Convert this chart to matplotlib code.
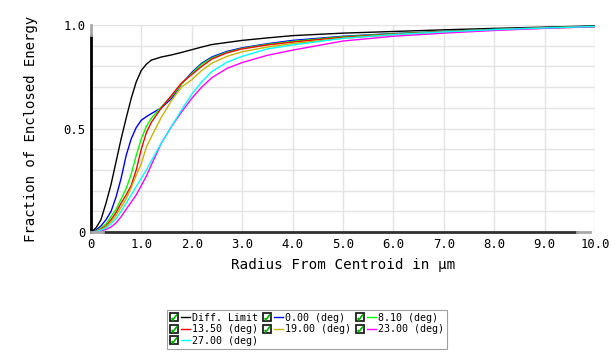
import matplotlib
matplotlib.use("Agg")
from matplotlib import pyplot as plt
from matplotlib.lines import Line2D
from matplotlib.legend_handler import HandlerTuple

radius = [0, 0.1, 0.2, 0.3, 0.4, 0.5, 0.6, 0.7, 0.8, 0.9, 1.0, 1.1, 1.2, 1.4, 1.6,
          1.8, 2.0, 2.2, 2.4, 2.7, 3.0, 3.5, 4.0, 5.0, 6.0, 7.0, 8.0, 9.0, 10.0]

diff_limit = [0, 0.02, 0.06, 0.14, 0.23, 0.34, 0.45, 0.55, 0.645, 0.725, 0.78, 0.81, 0.83, 0.845, 0.855,
              0.867, 0.88, 0.893, 0.905, 0.915, 0.925, 0.937, 0.948, 0.96, 0.968, 0.976, 0.983, 0.989, 0.995]
f_000 = [0, 0.01, 0.03, 0.06, 0.10, 0.17, 0.26, 0.37, 0.45, 0.505, 0.54, 0.557, 0.572, 0.60, 0.645,
         0.715, 0.77, 0.815, 0.845, 0.872, 0.889, 0.909, 0.925, 0.945, 0.958, 0.968, 0.978, 0.986, 0.993]
f_810 = [0, 0.005, 0.02, 0.04, 0.075, 0.11, 0.16, 0.21, 0.28, 0.37, 0.45, 0.51, 0.55, 0.605, 0.655,
         0.715, 0.765, 0.81, 0.84, 0.868, 0.886, 0.906, 0.92, 0.943, 0.957, 0.968, 0.978, 0.986, 0.993]
f_1350 = [0, 0.004, 0.015, 0.03, 0.06, 0.095, 0.14, 0.18, 0.225, 0.30, 0.40, 0.48, 0.53, 0.60, 0.66,
          0.72, 0.76, 0.80, 0.835, 0.865, 0.884, 0.903, 0.917, 0.94, 0.955, 0.967, 0.977, 0.985, 0.992]
f_1900 = [0, 0.003, 0.012, 0.025, 0.05, 0.08, 0.12, 0.16, 0.215, 0.275, 0.33, 0.41, 0.46, 0.555, 0.635,
          0.70, 0.735, 0.78, 0.815, 0.848, 0.870, 0.893, 0.91, 0.935, 0.952, 0.965, 0.975, 0.984, 0.991]
f_2300 = [0, 0.002, 0.006, 0.013, 0.025, 0.045, 0.075, 0.11, 0.145, 0.18, 0.225, 0.27, 0.325, 0.43, 0.51,
          0.58, 0.645, 0.70, 0.745, 0.79, 0.818, 0.853, 0.878, 0.922, 0.945, 0.96, 0.973, 0.983, 0.991]
f_2700 = [0, 0.003, 0.01, 0.02, 0.04, 0.065, 0.10, 0.14, 0.18, 0.22, 0.26, 0.30, 0.345, 0.43, 0.51,
          0.59, 0.665, 0.725, 0.775, 0.82, 0.848, 0.884, 0.903, 0.935, 0.953, 0.966, 0.977, 0.985, 0.992]

labels = ["Diff. Limit", "0.00 (deg)", "8.10 (deg)", "13.50 (deg)",
          "19.00 (deg)", "23.00 (deg)", "27.00 (deg)"]
series = [diff_limit, f_000, f_810, f_1350, f_1900, f_2300, f_2700]
colors = ["black", "#0000ff", "#00ff00", "#ff0000", "#c8b400", "#ff00ff", "#00ffff"]

mono = "DejaVu Sans Mono"


class CheckBox(tuple):
    pass


fig = plt.figure(figsize=(6.14, 3.55), dpi=100)
ax = fig.add_axes([0.148, 0.346, 0.821, 0.584])

for y, c in zip(series, colors):
    ax.plot(radius, y, color=c, lw=1.0)

ax.set_xlim(0, 10)
ax.set_ylim(0, 1)
ax.set_xticks(range(0, 11))
ax.set_xticklabels(["0"] + ["%.1f" % v for v in range(1, 11)])
ax.set_yticks([i / 10 for i in range(11)])
ax.set_yticklabels(["0", "", "", "", "", "0.5", "", "", "", "", "1.0"])
ax.tick_params(length=0, labelsize=8.8, pad=4)
for t in ax.get_xticklabels() + ax.get_yticklabels():
    t.set_family(mono)
ax.grid(True, color="#e4e4e4", lw=1.0)
ax.set_axisbelow(True)
for s in ax.spines.values():
    s.set_visible(False)

# axis bars: black with grey ends like the original viewer
ax.axvline(0, ymin=0, ymax=0.952, color="black", lw=2, clip_on=False)
ax.axvline(0, ymin=0.952, ymax=1.0, color="#a8a8a8", lw=2, clip_on=False)
ax.axhline(0, xmin=0.024, xmax=0.964, color="#303030", lw=2, clip_on=False)
ax.axhline(0, xmin=0.964, xmax=0.99, color="#a8a8a8", lw=2, clip_on=False)
ax.axhline(0, xmin=0.0, xmax=0.024, color="#a8a8a8", lw=2, clip_on=False)

ax.set_xlabel("Radius From Centroid in µm", family=mono, fontsize=10.3, va="top")
ax.xaxis.set_label_coords(0.5, -0.125)
ax.set_ylabel("Fraction of Enclosed Energy", family=mono, fontsize=10.1)
ax.yaxis.set_label_coords(-0.105, 0.5)

# legend with check boxes
handles = []
for c in colors:
    box = Line2D([], [], marker="s", markersize=6, mfc="white", mec="#202020", mew=1.3, ls="none")
    tick = Line2D([], [], marker="$\\checkmark$", markersize=4.2, color="#00b000", mew=0.5, ls="none")
    line = Line2D([], [], color=c, lw=1.0)
    handles.append((CheckBox((box, tick)), line))
order = [0, 3, 6, 1, 4, 2, 5]
leg = fig.legend([handles[i] for i in order], [labels[i] for i in order],
                 ncol=3, loc="upper left", bbox_to_anchor=(0.2715, 0.127),
                 borderaxespad=0,
                 handler_map={CheckBox: HandlerTuple(ndivide=1),
                              tuple: HandlerTuple(ndivide=None, pad=0.2)},
                 prop={"family": mono, "size": 7.2}, handlelength=2.0, handletextpad=0.2,
                 columnspacing=0.5, labelspacing=0.15, borderpad=0.3,
                 fancybox=False, edgecolor="#a0a0a0", framealpha=1)
leg.get_frame().set_linewidth(0.8)

fig.savefig("out.png", dpi=100)
